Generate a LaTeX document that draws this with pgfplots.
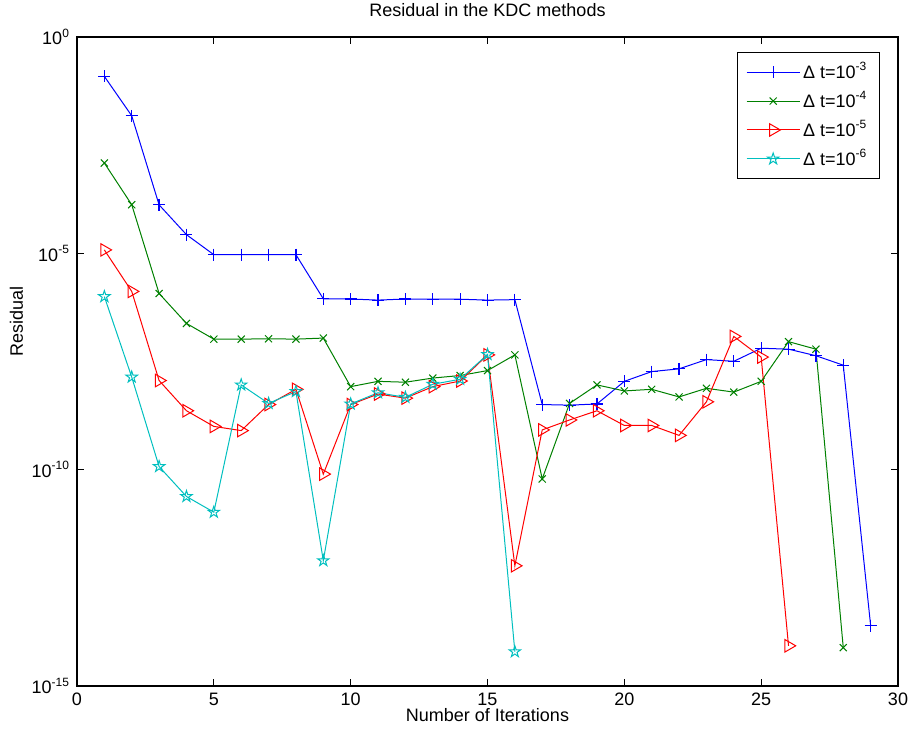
\documentclass[border=0pt]{standalone}
\usepackage{fontspec}
\setmainfont{Liberation Sans}
\usepackage{pgfplots}
\pgfplotsset{compat=1.18}
\usepackage{pgfplotstable}
\newcommand\f{\fontsize{9}{10.8}\selectfont}
\definecolor{mblue}{rgb}{0,0,1}
\definecolor{mgreen}{rgb}{0,0.5,0}
\definecolor{mred}{rgb}{1,0,0}
\definecolor{mcyan}{rgb}{0,0.75,0.75}
\pgfdeclareplotmark{pentagram}{%
 \pgfpathmoveto{\pgfpointpolar{90}{\pgfplotmarksize}}%
 \pgfpathlineto{\pgfpointpolar{126}{0.382\pgfplotmarksize}}%
 \pgfpathlineto{\pgfpointpolar{162}{\pgfplotmarksize}}%
 \pgfpathlineto{\pgfpointpolar{198}{0.382\pgfplotmarksize}}%
 \pgfpathlineto{\pgfpointpolar{234}{\pgfplotmarksize}}%
 \pgfpathlineto{\pgfpointpolar{270}{0.382\pgfplotmarksize}}%
 \pgfpathlineto{\pgfpointpolar{306}{\pgfplotmarksize}}%
 \pgfpathlineto{\pgfpointpolar{342}{0.382\pgfplotmarksize}}%
 \pgfpathlineto{\pgfpointpolar{18}{\pgfplotmarksize}}%
 \pgfpathlineto{\pgfpointpolar{54}{0.382\pgfplotmarksize}}%
 \pgfpathclose\pgfusepathqstroke}

\pgfplotstableread{
x y
1 0.123
2 0.0151
3 1.32e-4
4 2.7e-5
5 9.3e-6
6 9.3e-6
7 9.3e-6
8 9.3e-6
9 8.9e-7
10 8.8e-7
11 8.3e-7
12 8.8e-7
13 8.7e-7
14 8.7e-7
15 8.3e-7
16 8.5e-7
17 3.2e-9
18 3.1e-9
19 3.3e-9
20 1.1e-8
21 1.85e-8
22 2.14e-8
23 3.5e-8
24 3.2e-8
25 6.4e-8
26 6.1e-8
27 4.3e-8
28 2.6e-8
29 2.5e-14
}\dtA

\pgfplotstableread{
x y
1 1.22e-3
2 1.33e-4
3 1.18e-6
4 2.4e-7
5 1.04e-7
6 1.04e-7
7 1.06e-7
8 1.04e-7
9 1.1e-7
10 8.3e-9
11 1.1e-8
12 1.05e-8
13 1.31e-8
14 1.5e-8
15 1.95e-8
16 4.5e-8
17 6.1e-11
18 3.4e-9
19 9.1e-9
20 6.6e-9
21 7.2e-9
22 4.8e-9
23 7.6e-9
24 6.2e-9
25 1.1e-8
26 9.1e-8
27 6.1e-8
28 7.7e-15
}\dtB

\pgfplotstableread{
x y
1 1.2e-5
2 1.32e-6
3 1.15e-8
4 2.3e-9
5 1.0e-9
6 8.0e-10
7 3.2e-9
8 7.2e-9
9 7.9e-11
10 3.2e-9
11 5.6e-9
12 4.5e-9
13 8.3e-9
14 1.12e-8
15 4.5e-8
16 6.0e-13
17 8.3e-10
18 1.41e-9
19 2.3e-9
20 1.05e-9
21 1.05e-9
22 6.2e-10
23 3.7e-9
24 1.2e-7
25 4.0e-8
26 8.5e-15
}\dtC

\pgfplotstableread{
x y
1 1.0e-6
2 1.38e-8
3 1.18e-10
4 2.4e-11
5 1.04e-11
6 9.1e-9
7 3.4e-9
8 6.4e-9
9 7.9e-13
10 3.3e-9
11 6.0e-9
12 4.7e-9
13 9.4e-9
14 1.23e-8
15 4.6e-8
16 6.2e-15
}\dtD

\begin{document}
\begin{tikzpicture}[font=\f]
\useasboundingbox (-38.5pt,-24pt) rectangle (417pt,343pt);
\begin{axis}[
  at={(0pt,0pt)}, anchor=south west,
  scale only axis,
  width=410.5pt, height=324.5pt,
  xmin=0, xmax=30,
  ymode=log, ymin=1e-15, ymax=1,
  xtick={0,5,...,30},
  ytick={1e-15,1e-10,1e-5,1},
  yticklabels={10\textsuperscript{-15},10\textsuperscript{-10},10\textsuperscript{-5},10\textsuperscript{0}},
  yminorticks=false,
  /pgf/number format/assume math mode=true,
  axis line style={line width=0.9pt},
  tick style={black, line width=0.5pt},
  major tick length=3.5pt,
  tick align=inside,
  title={Residual in the KDC methods},
  title style={at={(0.5,1)}, anchor=south, yshift=0.5pt},
  xlabel={Number of Iterations},
  xlabel style={at={(axis description cs:0.5,0)}, anchor=north, yshift=-7.5pt},
  ylabel={Residual},
  ylabel style={at={([xshift=-23.5pt]axis description cs:0,0.562)}, anchor=south},
  legend style={at={(1,1)}, anchor=north east, xshift=-9pt, yshift=-7.5pt,
    draw=black, line width=0.6pt, inner xsep=4.5pt, inner ysep=3.5pt, row sep=2pt,
    nodes={inner sep=1.5pt}},
  legend cell align=left,
  legend image code/.code={\draw[mark repeat=2,mark phase=2] plot coordinates {(0pt,0pt) (13.25pt,0pt) (26.5pt,0pt)};},
  every axis plot/.append style={line width=0.5pt},
]
\addplot[mblue, mark=+, mark size=3pt, mark options={draw=mblue, line width=0.6pt}] table[x=x,y=y] {\dtA};
\addlegendentry{Δ t=10\textsuperscript{-3}}
\addplot[mgreen, mark=x, mark size=2.5pt] table[x=x,y=y] {\dtB};
\addlegendentry{Δ t=10\textsuperscript{-4}}
\addplot[mred, mark=triangle, mark size=3.6pt, mark options={rotate=-90}] table[x=x,y=y] {\dtC};
\addlegendentry{Δ t=10\textsuperscript{-5}}
\addplot[mcyan, mark=pentagram, mark size=3pt] table[x=x,y=y] {\dtD};
\addlegendentry{Δ t=10\textsuperscript{-6}}
\end{axis}
\end{tikzpicture}
\end{document}
